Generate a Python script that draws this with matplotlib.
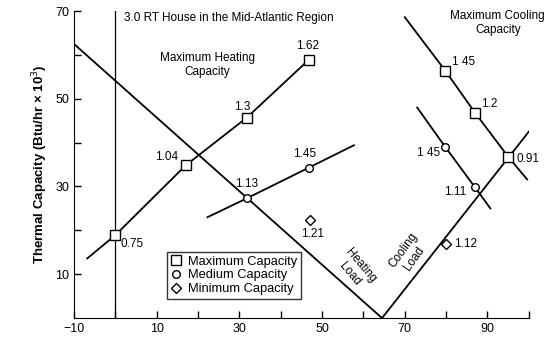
import matplotlib.pyplot as plt
import numpy as np

plt.rcParams['font.family'] = ['Liberation Sans', 'DejaVu Sans']

# Lastlinien (Aussentemperatur, Last)
heat_load_x = [-10, 64.5]
heat_load_y = [62.5, 0]
cool_load_x = [64.5, 100]
cool_load_y = [0, 42.5]

# Heizleistung
heat_max_x = [-6.8, 0, 17, 31.8, 46.8]
heat_max_y = [13.6, 18.9, 34.8, 45.7, 58.9]
heat_max_lbl = [None, '0.75', '1.04', '1.3', '1.62']
heat_med_x = [22.3, 31.8, 46.8, 57.7]
heat_med_y = [23.0, 27.3, 34.3, 39.4]
heat_med_lbl = [None, '1.13', '1.45', None]
heat_min_x = [47]
heat_min_y = [22.3]

# Kuehlleistung
cool_max_x = [70, 79.8, 87, 95, 99.6]
cool_max_y = [68.6, 56.4, 46.8, 36.8, 31.6]
cool_max_lbl = [None, '1 45', '1.2', '0.91', None]
cool_med_x = [73, 79.8, 87, 90.7]
cool_med_y = [48, 39, 29.8, 25]
cool_med_lbl = [None, '1 45', '1.11', None]
cool_min_x = [80]
cool_min_y = [17]

fig = plt.figure(figsize=(5.52, 3.45), dpi=100)
ax = fig.add_axes([0.134, 0.078, 0.824, 0.89])

lw = 1.3
ax.plot(heat_load_x, heat_load_y, 'k-', lw=lw)
ax.plot(cool_load_x, cool_load_y, 'k-', lw=lw)
ax.plot(heat_max_x, heat_max_y, 'k-', lw=lw)
ax.plot(heat_med_x, heat_med_y, 'k-', lw=lw)
ax.plot(cool_max_x, cool_max_y, 'k-', lw=lw)
ax.plot(cool_med_x, cool_med_y, 'k-', lw=lw)
ax.axvline(0, color='k', lw=0.9)

sq = dict(marker='s', ms=6.5, mfc='white', mec='k', mew=1.0, ls='none', zorder=5)
ci = dict(marker='o', ms=5.5, mfc='white', mec='k', mew=1.0, ls='none', zorder=5)
di = dict(marker='D', ms=5, mfc='white', mec='k', mew=1.0, ls='none', zorder=5)

ax.plot(heat_max_x[1:], heat_max_y[1:], **sq)
ax.plot(cool_max_x[1:4], cool_max_y[1:4], **sq)
ax.plot(heat_med_x[1:3], heat_med_y[1:3], **ci)
ax.plot(cool_med_x[1:3], cool_med_y[1:3], **ci)
ax.plot(heat_min_x, heat_min_y, **di)
ax.plot(cool_min_x, cool_min_y, **di)

fs = 8.5
def tag(x, y, s, dx, dy, ha='center'):
    ax.annotate(s, (x, y), xytext=(dx, dy), textcoords='offset points',
                ha=ha, va='center', fontsize=fs)

tag(heat_max_x[1], heat_max_y[1], heat_max_lbl[1], 4, -6, 'left')
tag(heat_max_x[2], heat_max_y[2], heat_max_lbl[2], -5, 6, 'right')
tag(heat_max_x[3], heat_max_y[3], heat_max_lbl[3], -3, 8, 'center')
tag(heat_max_x[4], heat_max_y[4], heat_max_lbl[4], -1, 10, 'center')
tag(heat_med_x[1], heat_med_y[1], heat_med_lbl[1], 0, 10, 'center')
tag(heat_med_x[2], heat_med_y[2], heat_med_lbl[2], -3, 10, 'center')
tag(heat_min_x[0], heat_min_y[0], '1.21', 2, -10, 'center')
tag(cool_max_x[1], cool_max_y[1], cool_max_lbl[1], 5, 6, 'left')
tag(cool_max_x[2], cool_max_y[2], cool_max_lbl[2], 4, 6, 'left')
tag(cool_max_x[3], cool_max_y[3], cool_max_lbl[3], 6, -2, 'left')
tag(cool_med_x[1], cool_med_y[1], cool_med_lbl[1], -4, -4, 'right')
tag(cool_med_x[2], cool_med_y[2], cool_med_lbl[2], -6, -3, 'right')
tag(cool_min_x[0], cool_min_y[0], '1.12', 6, 0, 'left')

ax.text(2, 68.3, '3.0 RT House in the Mid-Atlantic Region', fontsize=fs, va='center')
ax.text(22.3, 57.7, 'Maximum Heating\nCapacity', fontsize=fs, ha='center', va='center')
ax.text(92.5, 67.2, 'Maximum Cooling\nCapacity', fontsize=fs, ha='center', va='center')
ax.text(58, 11, 'Heating\nLoad', fontsize=fs, ha='center', va='center', rotation=-50)
ax.text(71, 14.5, 'Cooling\nLoad', fontsize=fs, ha='center', va='center', rotation=54)

h1, = ax.plot([], [], **sq)
h2, = ax.plot([], [], **ci)
h3, = ax.plot([], [], **di)
leg = ax.legend([h1, h2, h3], ['Maximum Capacity', 'Medium Capacity', 'Minimum Capacity'],
                loc='lower left', bbox_to_anchor=(0.19, 0.04), fontsize=9.3,
                frameon=True, fancybox=False, edgecolor='k', handlelength=0.8,
                handletextpad=0.5, borderpad=0.3, labelspacing=0.15)
leg.get_frame().set_linewidth(1.0)

ax.set_xlim(-10, 100)
ax.set_ylim(0, 70)
ax.set_xticks([-10, 10, 30, 50, 70, 90])
ax.set_xticks(np.arange(0, 101, 20), minor=True)
ax.set_yticks([10, 30, 50, 70])
ax.set_yticks([20, 40, 60], minor=True)
ax.tick_params(which='both', direction='in', length=5, width=1, labelsize=9)
ax.spines['top'].set_visible(False)
ax.spines['right'].set_visible(False)
ax.set_ylabel('Thermal Capacity (Btu/hr × 10$^3$)', fontsize=9.5, fontweight='bold')

fig.savefig('out.png', dpi=100)
